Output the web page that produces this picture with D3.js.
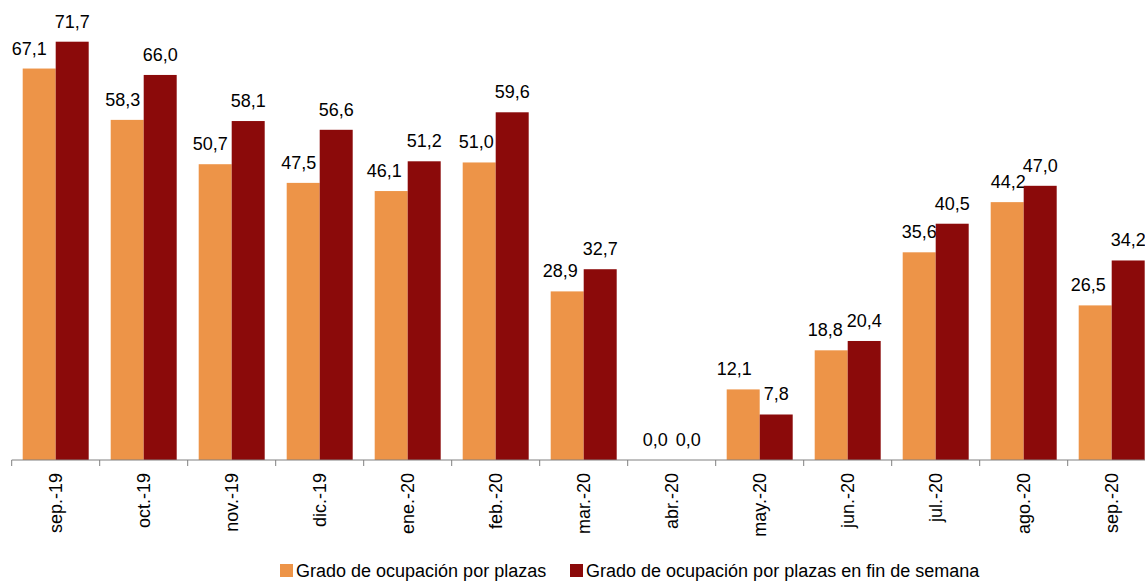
<!DOCTYPE html>
<html>
<head>
<meta charset="utf-8">
<style>
  body { margin: 0; background: #fff; }
  text { font-family: "Liberation Sans", Arial, sans-serif; fill: #000; }
</style>
</head>
<body>
<svg width="1145" height="581"></svg>
<script src="https://d3js.org/d3.v7.min.js"></script>
<script>

var months = ["sep.-19", "oct.-19", "nov.-19", "dic.-19", "ene.-20", "feb.-20", "mar.-20",
              "abr.-20", "may.-20", "jun.-20", "jul.-20", "ago.-20", "sep.-20"];
var plazas = [67.1, 58.3, 50.7, 47.5, 46.1, 51.0, 28.9, 0.0, 12.1, 18.8, 35.6, 44.2, 26.5];
var finSemana = [71.7, 66.0, 58.1, 56.6, 51.2, 59.6, 32.7, 0.0, 7.8, 20.4, 40.5, 47.0, 34.2];
var seriesNames = ["Grado de ocupación por plazas", "Grado de ocupación por plazas en fin de semana"];
var colors = ["#ED9448", "#8B0A0A"];
// little horizontal nudges of the orange labels, as in the original
var labelNudge = [-10, -4.5, -5, -4.5, -7, -3, -7, 0, -9, -6, 0, 1, -7];

var svg = d3.select("svg"),
    baseY = 460,
    x0 = 11.7,
    step = 88;

var x = d3.scaleBand()
    .domain(months)
    .range([x0, x0 + step * months.length])
    .paddingInner(0)
    .paddingOuter(0);

var x1 = d3.scaleBand()
    .domain([0, 1])
    .range([11, step - 11]);

var y = d3.scaleLinear()
    .domain([0, 71.7])
    .range([baseY, 41.7]);

var fmt = function(v) { return v.toFixed(1).replace(".", ","); };

var series = [plazas, finSemana];

series.forEach(function(vals, s) {
  var g = svg.append("g");
  g.selectAll("rect")
    .data(vals)
    .enter().append("rect")
      .attr("x", function(d, i) { return x(months[i]) + x1(s); })
      .attr("y", function(d) { return y(d); })
      .attr("width", x1.bandwidth())
      .attr("height", function(d) { return baseY - y(d); })
      .attr("fill", colors[s]);

  g.selectAll("text")
    .data(vals)
    .enter().append("text")
      .attr("x", function(d, i) {
        return x(months[i]) + x1(s) + x1.bandwidth() / 2 + (s === 0 ? labelNudge[i] : 0);
      })
      .attr("y", function(d) { return y(d) - 14; })
      .attr("text-anchor", "middle")
      .attr("font-size", "18px")
      .text(fmt);
});

// axis
var axis = svg.append("g");
axis.append("line")
    .attr("x1", x0).attr("x2", 1145)
    .attr("y1", baseY).attr("y2", baseY)
    .attr("stroke", "#808080").attr("stroke-width", 1);

axis.selectAll(".tick")
    .data(months)
    .enter().append("line")
      .attr("x1", function(d) { return x(d); })
      .attr("x2", function(d) { return x(d); })
      .attr("y1", baseY).attr("y2", baseY + 6)
      .attr("stroke", "#808080");

axis.selectAll(".lbl")
    .data(months)
    .enter().append("text")
      .attr("transform", function(d) {
        return "translate(" + (x(d) + x.bandwidth() / 2 + 6.5) + "," + (baseY + 13) + ") rotate(-90)";
      })
      .attr("text-anchor", "end")
      .attr("font-size", "18px")
      .text(function(d) { return d; });

// legend
var legendX = [280, 570];
seriesNames.forEach(function(name, s) {
  svg.append("rect")
      .attr("x", legendX[s]).attr("y", 564)
      .attr("width", 13).attr("height", 13)
      .attr("fill", colors[s]);
  svg.append("text")
      .attr("x", legendX[s] + 16).attr("y", 576.5)
      .attr("font-size", "18px")
      .text(name);
});

</script>
</body>
</html>
